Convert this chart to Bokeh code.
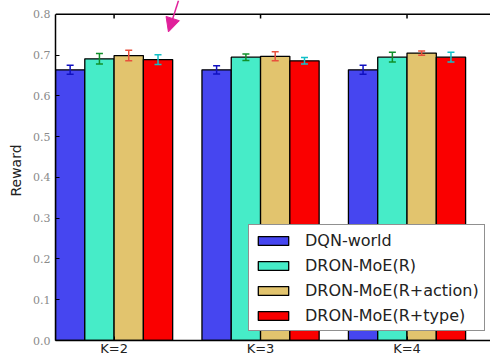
from bokeh.plotting import figure
from bokeh.models import (ColumnDataSource, Whisker, TeeHead, FixedTicker,
                          Range1d, Arrow, NormalHead, Legend, LegendItem, Span)
from bokeh.embed import file_html
from bokeh.resources import INLINE

# ---- data ----
categories = ["K=2", "K=3", "K=4"]
series_names = ["DQN-world", "DRON-MoE(R)", "DRON-MoE(R+action)", "DRON-MoE(R+type)"]
dqn_world = [0.664, 0.664, 0.664]
moe_r = [0.691, 0.695, 0.695]
moe_action = [0.699, 0.697, 0.705]
moe_type = [0.689, 0.686, 0.695]
err_dqn_world = [0.011, 0.010, 0.011]
err_moe_r = [0.013, 0.008, 0.012]
err_moe_action = [0.013, 0.011, 0.005]
err_moe_type = [0.012, 0.008, 0.012]
y_ticks = [0.0, 0.1, 0.2, 0.3, 0.4, 0.5, 0.6, 0.7, 0.8]
y_max = 0.8

values = [dqn_world, moe_r, moe_action, moe_type]
errors = [err_dqn_world, err_moe_r, err_moe_action, err_moe_type]
fill_colors = ["#4646f0", "#46ecc8", "#e2c46e", "#fa0000"]
err_colors = ["#1010c0", "#10902a", "#e8503c", "#10c0c8"]
offsets = [-0.3, -0.1, 0.1, 0.3]
bar_width = 0.2

p = figure(width=490, height=358, output_backend="svg", toolbar_location=None,
           x_range=Range1d(-0.4, 2.57), y_range=Range1d(0, 0.834),
           min_border_left=55, min_border_top=0, min_border_right=0, min_border_bottom=10)
p.outline_line_color = None
p.grid.visible = False
p.background_fill_color = "white"

legend_items = []
for i in range(4):
    xs = [k + offsets[i] for k in range(len(categories))]
    src = ColumnDataSource(dict(
        x=xs, top=values[i],
        upper=[v + e for v, e in zip(values[i], errors[i])],
        lower=[v - e for v, e in zip(values[i], errors[i])]))
    r = p.vbar(x="x", top="top", width=bar_width, source=src,
               fill_color=fill_colors[i], line_color="black", line_width=1.3)
    legend_items.append(LegendItem(label=series_names[i], renderers=[r]))
    w = Whisker(source=src, base="x", upper="upper", lower="lower",
                line_color=err_colors[i], line_width=1.5, level="annotation",
                upper_head=TeeHead(size=7, line_color=err_colors[i], line_width=1.5),
                lower_head=TeeHead(size=7, line_color=err_colors[i], line_width=1.5))
    p.add_layout(w)

legend = Legend(items=legend_items, location=(193, 9),
                label_text_font="DejaVu Sans", label_text_font_size="16px",
                label_text_color="#222222",
                glyph_width=38, glyph_height=11, label_standoff=13,
                padding=5, spacing=5, label_height=20, margin=0,
                border_line_color="#222222", border_line_width=1,
                background_fill_color="white", background_fill_alpha=1.0)
p.add_layout(legend)

# x axis (bottom)
xa = p.xaxis[0]
xa.ticker = FixedTicker(ticks=list(range(len(categories))))
xa.major_label_overrides = {i: c for i, c in enumerate(categories)}
xa.major_label_text_font = "DejaVu Sans"
xa.major_label_text_font_size = "13px"
xa.major_label_text_color = "#222222"
xa.major_tick_in = 4
xa.major_tick_out = 0
xa.minor_tick_line_color = None
xa.major_label_standoff = 0
xa.axis_line_width = 1.5

# y axis (left), spine limited to 0..0.8
ya = p.yaxis[0]
ya.bounds = (0, y_max)
ya.ticker = FixedTicker(ticks=y_ticks)
ya.major_label_overrides = {t: f"{t:.1f}" for t in y_ticks}
ya.major_label_text_font = "DejaVu Serif"
ya.major_label_text_font_size = "11px"
ya.major_label_text_color = "#8a8a8a"
ya.major_tick_in = 4
ya.major_tick_out = 0
ya.minor_tick_line_color = None
ya.major_label_standoff = 5
ya.axis_line_width = 1.5
ya.axis_label = "Reward"
ya.axis_label_text_font = "DejaVu Sans"
ya.axis_label_text_font_size = "14px"
ya.axis_label_text_font_style = "normal"
ya.axis_label_text_color = "#222222"
ya.axis_label_standoff = 6

# top spine with inward ticks at the group centres
p.add_layout(Span(location=y_max, dimension="width", line_color="black", line_width=1.5))
p.segment(x0=list(range(len(categories))), x1=list(range(len(categories))),
          y0=[y_max] * len(categories), y1=[y_max - 0.01] * len(categories),
          line_color="black", line_width=1.5)

# pink annotation arrow
arrow = Arrow(x_start=0.44, y_start=0.834, x_end=0.371, y_end=0.757,
              line_color="#e0209a", line_width=1.5,
              end=NormalHead(size=14, fill_color="#e0209a", line_color="#e0209a"))
p.add_layout(arrow)

open("out.html", "w").write(file_html(p, INLINE))
